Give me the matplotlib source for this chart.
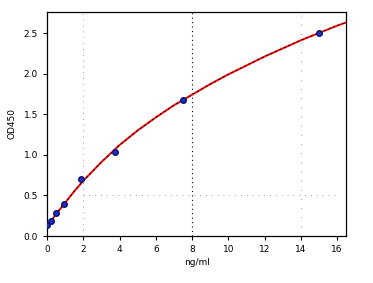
import matplotlib
matplotlib.use('Agg')
from matplotlib import pyplot as plt

# standards
conc = [0, 0.234, 0.469, 0.938, 1.875, 3.75, 7.5, 15]
od = [0.13, 0.18, 0.28, 0.40, 0.70, 1.03, 1.67, 2.50]

# fitted curve
fit_x = [0, 0.25, 0.5, 1, 1.5, 2, 3, 4, 5, 6, 7, 8, 9, 10, 11, 12, 13, 14, 15, 16, 16.5]
fit_y = [0.11, 0.19, 0.27, 0.41, 0.55, 0.68, 0.91, 1.12, 1.30, 1.46, 1.61, 1.74, 1.87, 1.99, 2.10, 2.21, 2.31, 2.41, 2.50, 2.59, 2.63]

fig = plt.figure(figsize=(3.73, 2.83), dpi=100)
ax = fig.add_axes([0.126, 0.166, 0.802, 0.792])

# faint dotted guides
ax.axvline(8, color='black', lw=0.8, ls=(0, (1, 3)), zorder=1)
ax.axvline(2, color='gray', lw=0.6, ls=(0, (1, 6)), zorder=1)
ax.axvline(14, color='gray', lw=0.6, ls=(0, (1, 10)), zorder=1)
ax.plot([2, 16], [0.5, 0.5], color='gray', lw=0.6, ls=(0, (1, 6)), zorder=1)

ax.plot(fit_x, fit_y, color='red', lw=1.4, zorder=2)
ax.plot(fit_x, fit_y, color='black', lw=0.7, ls=(0, (2, 3)), zorder=3)
ax.plot(conc, od, 'o', color='#1a2fd0', mec='#101060', ms=4, zorder=4)

ax.set_xlim(0, 16.5)
ax.set_ylim(0, 2.76)
ax.set_xticks([0, 2, 4, 6, 8, 10, 12, 14, 16])
ax.set_yticks([0.0, 0.5, 1.0, 1.5, 2.0, 2.5])
ax.tick_params(labelsize=6.5, length=3, width=0.8)
ax.set_xlabel('ng/ml', fontsize=6.5, labelpad=3)
ax.set_ylabel('OD450', fontsize=6.5, labelpad=5)
for s in ax.spines.values():
    s.set_linewidth(0.9)

fig.savefig('out.png', dpi=100)
